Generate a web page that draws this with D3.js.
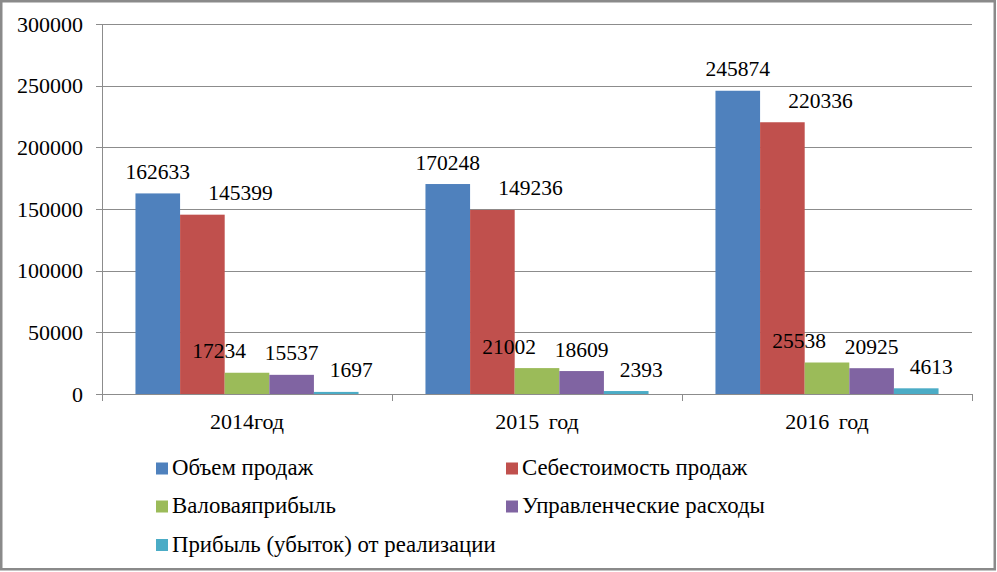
<!DOCTYPE html>
<html>
<head>
<meta charset="utf-8">
<script src="https://cdn.jsdelivr.net/npm/d3@7"></script>
<style>
    body { margin: 0; background: #fff; }
</style>
</head>
<body>
<div id="chart"></div>
<script>
// Chart data
const years = ["2014год", "2015 год", "2016 год"];
const seriesNames = ["Объем продаж", "Себестоимость продаж", "Валоваяприбыль", "Управленческие расходы", "Прибыль (убыток) от реализации"];
const salesVolume = [162633, 170248, 245874];
const costOfSales = [145399, 149236, 220336];
const grossProfit = [17234, 21002, 25538];
const adminExpenses = [15537, 18609, 20925];
const operatingProfit = [1697, 2393, 4613];
const yTicks = [0, 50000, 100000, 150000, 200000, 250000, 300000];

const seriesValues = [salesVolume, costOfSales, grossProfit, adminExpenses, operatingProfit];
const colors = ["#4F81BD", "#C0504D", "#9BBB59", "#8064A2", "#4BACC6"];
// horizontal nudge of data labels per series (labels were moved in the original)
const labelShift = [0, 38, -28, 0, 15];

const width = 997;
const height = 572;
const plot = { left: 102, right: 972, top: 24, bottom: 394 };
const serif = "'Liberation Serif', 'Times New Roman', Tinos, 'DejaVu Serif', serif";

const svg = d3.select("#chart")
    .append("svg")
    .attr("width", width)
    .attr("height", height)
    .style("font-family", serif);

// Outer frame
svg.append("rect")
    .attr("x", 1.25).attr("y", 1.25)
    .attr("width", 993.5).attr("height", 568)
    .attr("fill", "#fff")
    .attr("stroke", "#8a8a8a")
    .attr("stroke-width", 2.5);

// Scales
const x0 = d3.scaleBand()
    .domain(years)
    .range([plot.left, plot.right])
    .padding(0);

const x1 = d3.scaleBand()
    .domain(d3.range(seriesNames.length))
    .range([0, x0.bandwidth()])
    .paddingInner(0)
    .paddingOuter(0.75);

const y = d3.scaleLinear()
    .domain([0, 300000])
    .range([plot.bottom, plot.top]);

// Gridlines with left ticks
svg.append("g")
    .selectAll("line")
    .data(yTicks)
    .join("line")
    .attr("x1", plot.left - 6)
    .attr("x2", plot.right)
    .attr("y1", d => Math.round(y(d)) + 0.5)
    .attr("y2", d => Math.round(y(d)) + 0.5)
    .attr("stroke", "#8c8c8c")
    .attr("stroke-width", 1);

// Y tick labels
svg.append("g")
    .selectAll("text")
    .data(yTicks)
    .join("text")
    .attr("x", 83)
    .attr("y", d => y(d))
    .attr("dy", "0.35em")
    .attr("text-anchor", "end")
    .style("font-size", "22px")
    .text(d => d);

// Left axis line
svg.append("line")
    .attr("x1", plot.left + 0.5).attr("x2", plot.left + 0.5)
    .attr("y1", plot.top).attr("y2", plot.bottom)
    .attr("stroke", "#8c8c8c");

// Bars
const groups = svg.append("g")
    .selectAll("g")
    .data(years)
    .join("g")
    .attr("transform", d => `translate(${x0(d)},0)`);

groups.selectAll("rect")
    .data((d, i) => seriesValues.map((vals, s) => ({ s: s, value: vals[i] })))
    .join("rect")
    .attr("x", d => x1(d.s))
    .attr("width", x1.bandwidth())
    .attr("y", d => y(d.value))
    .attr("height", d => plot.bottom - y(d.value))
    .attr("fill", d => colors[d.s]);

// Data labels
groups.selectAll("text")
    .data((d, i) => seriesValues.map((vals, s) => ({ s: s, value: vals[i] })))
    .join("text")
    .attr("x", d => x1(d.s) + x1.bandwidth() / 2 + labelShift[d.s])
    .attr("y", d => y(d.value) - 14.5)
    .attr("text-anchor", "middle")
    .style("font-size", "21.5px")
    .text(d => d.value);

// X axis line and ticks
svg.append("line")
    .attr("x1", plot.left).attr("x2", plot.right)
    .attr("y1", plot.bottom + 0.5).attr("y2", plot.bottom + 0.5)
    .attr("stroke", "#8c8c8c");

const boundaries = years.map(d => x0(d)).concat([plot.right]);
svg.append("g")
    .selectAll("line")
    .data(boundaries)
    .join("line")
    .attr("x1", d => Math.round(d) + 0.5)
    .attr("x2", d => Math.round(d) + 0.5)
    .attr("y1", plot.bottom)
    .attr("y2", plot.bottom + 7)
    .attr("stroke", "#8c8c8c");

// Category labels
svg.append("g")
    .selectAll("text")
    .data(years)
    .join("text")
    .attr("x", d => x0(d) + x0.bandwidth() / 2)
    .attr("y", 429)
    .attr("text-anchor", "middle")
    .style("font-size", "22px")
    .style("word-spacing", "4px")
    .text(d => d);

// Legend
const legendCols = [156, 506];
const legendRows = [468.5, 506.5, 545];
const legend = svg.append("g")
    .selectAll("g")
    .data(seriesNames)
    .join("g")
    .attr("transform", (d, i) => `translate(${legendCols[i % 2]},${legendRows[Math.floor(i / 2)]})`);

legend.append("rect")
    .attr("x", 0)
    .attr("y", -6)
    .attr("width", 12)
    .attr("height", 12)
    .attr("fill", (d, i) => colors[i]);

legend.append("text")
    .attr("x", 16)
    .attr("y", 6.5)
    .style("font-size", "22.8px")
    .text(d => d);
</script>
</body>
</html>
